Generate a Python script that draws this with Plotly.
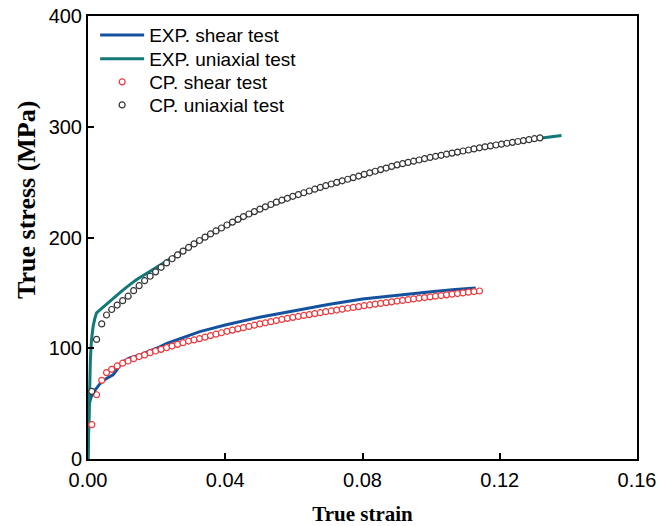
import plotly.graph_objects as go

# ---- EXP. shear test (blue line) ----
exp_shear_strain = [0, 0.0003, 0.0007, 0.0012, 0.002, 0.0035, 0.005, 0.0073, 0.0085, 0.0098,
                    0.012, 0.0152, 0.02, 0.023, 0.0326, 0.04, 0.05, 0.06, 0.07, 0.08,
                    0.09, 0.10, 0.107, 0.113]
exp_shear_stress = [0, 48, 54, 58, 62, 68, 72, 76, 81, 87,
                    91, 94, 100, 104.5, 115, 121, 128, 134, 139.5, 144.5,
                    148, 151, 153, 154.5]

# ---- EXP. uniaxial test (teal line) ----
exp_uni_strain = [0, 0.0003, 0.0007, 0.001, 0.0015, 0.002, 0.0025, 0.004, 0.006, 0.008,
                  0.01, 0.012, 0.0142, 0.02, 0.025, 0.03, 0.04, 0.05, 0.06, 0.07,
                  0.08, 0.09, 0.10, 0.11, 0.12, 0.13, 0.138]
exp_uni_stress = [0, 50, 90, 107, 120, 127, 132, 136, 141.5, 146.5,
                  152, 157, 162, 173, 182.5, 192.5, 210, 225, 237, 247,
                  256, 265, 272, 278, 284, 289, 292]

# ---- CP. shear test (red open circles) ----
cp_shear_strain = [0.0011, 0.0025, 0.004, 0.0054, 0.0069,
    0.0085, 0.0101, 0.0117, 0.0133, 0.0149, 0.0165, 0.0181, 0.0197, 0.0213, 0.0229,
    0.0245, 0.0261, 0.0277, 0.0293, 0.0309, 0.0325, 0.0341, 0.0357, 0.0373, 0.0389,
    0.0405, 0.0421, 0.0437, 0.0453, 0.0469, 0.0485, 0.0501, 0.0517, 0.0533, 0.0549,
    0.0565, 0.0581, 0.0597, 0.0613, 0.0629, 0.0645, 0.0661, 0.0677, 0.0693, 0.0709,
    0.0725, 0.0741, 0.0757, 0.0773, 0.0789, 0.0805, 0.0821, 0.0837, 0.0853, 0.0869,
    0.0885, 0.0901, 0.0917, 0.0933, 0.0949, 0.0965, 0.0981, 0.0997, 0.1013, 0.1029,
    0.1045, 0.1061, 0.1077, 0.1093, 0.1109, 0.1125, 0.1141]
cp_shear_stress = [31, 58, 71, 78, 81,
    84, 86.5, 88.5, 90.5, 92.5, 94, 96, 97.5, 99, 100.5,
    102, 103.5, 105, 106.5, 107.5, 108.7, 110, 111.4, 112.7, 114,
    115.3, 116.4, 117.5, 118.6, 119.7, 120.8, 122, 123, 124, 125,
    126, 127, 127.9, 128.7, 129.6, 130.4, 131.3, 132.1, 133, 133.7,
    134.5, 135.3, 136.1, 136.9, 137.6, 138.4, 139.1, 139.8, 140.5, 141.2,
    141.9, 142.6, 143.2, 143.9, 144.5, 145.2, 145.8, 146.4, 147, 147.6,
    148.2, 148.8, 149.4, 150, 150.6, 151.2, 151.7]

# ---- CP. uniaxial test (dark open circles) ----
cp_uni_strain = [0.0011, 0.0025, 0.004, 0.0054, 0.0069,
    0.0085, 0.0101, 0.0117, 0.0133, 0.0149, 0.0165, 0.0181, 0.0197, 0.0213, 0.0229,
    0.0245, 0.0261, 0.0277, 0.0293, 0.0309, 0.0325, 0.0341, 0.0357, 0.0373, 0.0389,
    0.0405, 0.0421, 0.0437, 0.0453, 0.0469, 0.0485, 0.0501, 0.0517, 0.0533, 0.0549,
    0.0565, 0.0581, 0.0597, 0.0613, 0.0629, 0.0645, 0.0661, 0.0677, 0.0693, 0.0709,
    0.0725, 0.0741, 0.0757, 0.0773, 0.0789, 0.0805, 0.0821, 0.0837, 0.0853, 0.0869,
    0.0885, 0.0901, 0.0917, 0.0933, 0.0949, 0.0965, 0.0981, 0.0997, 0.1013, 0.1029,
    0.1045, 0.1061, 0.1077, 0.1093, 0.1109, 0.1125, 0.1141, 0.1157, 0.1173, 0.1189,
    0.1205, 0.1221, 0.1237, 0.1253, 0.1269, 0.1285, 0.1301, 0.1317]
cp_uni_stress = [61, 108, 122, 130, 135,
    139, 143, 147, 152, 156.5, 161, 165, 169, 173.1, 177,
    180.8, 184.3, 187.7, 191, 194.2, 197.3, 200.3, 203.2, 205.9, 208.6,
    211.3, 213.9, 216.4, 218.9, 221.2, 223.4, 225.6, 227.7, 229.8, 231.9,
    233.7, 235.4, 237.2, 238.8, 240.4, 242, 243.6, 245.2, 246.8, 248.3,
    249.8, 251.2, 252.6, 254.1, 255.5, 257, 258.4, 259.8, 261.3, 262.7,
    264.2, 265.6, 266.7, 267.8, 268.9, 270, 271.2, 272.3, 273.3, 274.2,
    275.2, 276.2, 277.1, 278.1, 279, 280, 281, 281.9, 282.7, 283.5,
    284.3, 285.1, 285.9, 286.7, 287.5, 288.3, 289.2, 290]

x_ticks = [0, 0.04, 0.08, 0.12, 0.16]
x_tick_text = ["0.00", "0.04", "0.08", "0.12", "0.16"]
y_ticks = [0, 100, 200, 300, 400]

BLUE = "#1452a0"
TEAL = "#137878"
RED = "#e8383c"
DARK = "#333333"

fig = go.Figure()
fig.add_trace(go.Scatter(x=exp_shear_strain, y=exp_shear_stress, mode="lines",
                         name="EXP. shear test", legend="legend",
                         line=dict(color=BLUE, width=3)))
fig.add_trace(go.Scatter(x=exp_uni_strain, y=exp_uni_stress, mode="lines",
                         name="EXP. uniaxial test", legend="legend2",
                         line=dict(color=TEAL, width=3)))
fig.add_trace(go.Scatter(x=cp_shear_strain, y=cp_shear_stress, mode="markers",
                         name="CP. shear test", legend="legend3",
                         marker=dict(symbol="circle", size=6, color="white",
                                     line=dict(color=RED, width=1.2))))
fig.add_trace(go.Scatter(x=cp_uni_strain, y=cp_uni_stress, mode="markers",
                         name="CP. uniaxial test", legend="legend4",
                         marker=dict(symbol="circle", size=6, color="white",
                                     line=dict(color=DARK, width=1.2))))

axis_common = dict(showline=True, linecolor="black", linewidth=2, mirror=True,
                   ticks="inside", ticklen=6, tickwidth=2, tickcolor="black",
                   showgrid=False, zeroline=False, automargin=False,
                   tickfont=dict(family="Liberation Sans, Arial", size=20, color="black"))

legend_common = dict(x=0.013, xanchor="left", yanchor="middle",
                     bgcolor="rgba(0,0,0,0)", borderwidth=0, itemwidth=44,
                     font=dict(family="Liberation Sans, Arial", size=19, color="black"))

fig.update_layout(
    width=672, height=526,
    margin=dict(l=88, r=35, t=16, b=67),
    paper_bgcolor="white", plot_bgcolor="white",
    xaxis=dict(range=[0, 0.16], tickvals=x_ticks, ticktext=x_tick_text,
               ticklabelstandoff=2,
               title=dict(text="<b>True strain</b>", standoff=16,
                          font=dict(family="Liberation Serif, Times New Roman", size=21, color="black")),
               **axis_common),
    yaxis=dict(range=[0, 400], tickvals=y_ticks, **axis_common),
    legend=dict(y=0.957, **legend_common),
    legend2=dict(y=0.903, **legend_common),
    legend3=dict(y=0.851, **legend_common),
    legend4=dict(y=0.799, **legend_common),
    showlegend=True,
    annotations=[dict(text="<b>True stress (MPa)</b>", textangle=-90,
                      xref="paper", yref="paper", x=-0.111, y=0.585,
                      xanchor="center", yanchor="middle", showarrow=False,
                      font=dict(family="Liberation Serif, Times New Roman", size=26, color="black"))],
)

fig.write_html("out.html")
